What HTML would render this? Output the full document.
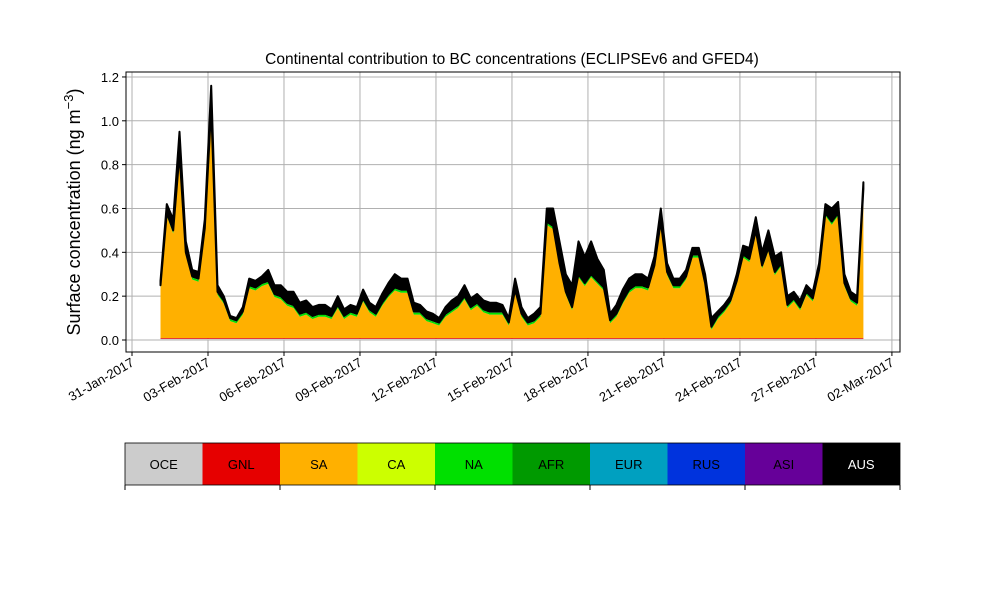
<!DOCTYPE html>
<html><head><meta charset="utf-8"><style>
body{margin:0;background:#fff;font-family:"Liberation Sans",sans-serif}
svg text{font-family:"Liberation Sans","DejaVu Sans",sans-serif}
</style></head><body>
<svg id="chart" width="1000" height="600" xmlns="http://www.w3.org/2000/svg">
<rect width="1000" height="600" fill="#fff"/>
<text x="512" y="64" font-size="15.5" text-anchor="middle">Continental contribution to BC concentrations (ECLIPSEv6 and GFED4)</text>
<text transform="translate(80,212) rotate(-90)" font-size="18" text-anchor="middle">Surface concentration (ng m<tspan dy="-7" font-size="13">−3</tspan><tspan dy="7">)</tspan></text>
<g id="grid"></g><g id="areas"></g><g id="axes"></g><g id="legend"></g>
</svg>
<script>
const totalValues=[0.27,0.62,0.55,0.95,0.45,0.32,0.31,0.55,1.16,
0.25,0.2,0.11,0.1,0.15,0.28,0.27,0.29,0.32,0.25,
0.25,0.22,0.22,0.17,0.18,0.15,0.16,0.16,0.14,0.2,
0.14,0.16,0.15,0.23,0.17,0.15,0.21,0.26,0.3,0.28,
0.28,0.17,0.16,0.13,0.12,0.1,0.15,0.18,0.2,0.25,
0.19,0.21,0.18,0.17,0.17,0.16,0.1,0.28,0.15,0.1,
0.12,0.15,0.6,0.6,0.45,0.3,0.25,0.45,0.38,0.45,
0.37,0.32,0.12,0.16,0.23,0.28,0.3,0.3,0.28,0.38,
0.6,0.35,0.28,0.28,0.32,0.42,0.42,0.3,0.1,0.13,
0.16,0.2,0.3,0.43,0.42,0.56,0.4,0.5,0.38,0.4,
0.2,0.22,0.18,0.25,0.22,0.35,0.62,0.6,0.63,0.3,
0.22,0.2,0.72];
const ausValues=[0.02,0.04,0.05,0.1,0.05,0.03,0.03,0.04,0.1,
0.03,0.02,0.01,0.01,0.02,0.03,0.03,0.03,0.05,0.04,
0.05,0.05,0.06,0.05,0.05,0.04,0.04,0.04,0.03,0.04,
0.03,0.03,0.03,0.04,0.03,0.03,0.04,0.05,0.06,0.05,
0.05,0.04,0.03,0.03,0.03,0.02,0.03,0.04,0.04,0.05,
0.04,0.04,0.04,0.04,0.04,0.03,0.02,0.05,0.03,0.02,
0.03,0.03,0.06,0.08,0.1,0.08,0.1,0.15,0.12,0.15,
0.1,0.08,0.03,0.04,0.05,0.05,0.05,0.05,0.04,0.04,
0.06,0.04,0.03,0.03,0.03,0.03,0.03,0.04,0.04,0.02,
0.02,0.02,0.03,0.04,0.05,0.06,0.06,0.08,0.07,0.05,
0.04,0.03,0.03,0.03,0.03,0.03,0.04,0.06,0.05,0.04,
0.03,0.03,0.03];
const oceValue=0.006, gnlValue=0.003, naValue=0.008, afrValue=0.006;
const startDay=1.125, stepDay=0.25;
const yTicks=[0.0,0.2,0.4,0.6,0.8,1.0,1.2];
const xTickDays=[0,3,6,9,12,15,18,21,24,27,30];
const xTickLabels=["31-Jan-2017","03-Feb-2017","06-Feb-2017","09-Feb-2017","12-Feb-2017","15-Feb-2017","18-Feb-2017","21-Feb-2017","24-Feb-2017","27-Feb-2017","02-Mar-2017"];
const legendNames=["OCE","GNL","SA","CA","NA","AFR","EUR","RUS","ASI","AUS"];
const legendColors=["#cccccc","#e60000","#ffb000","#ccff00","#00e000","#009a00","#00a0c0","#0033dd","#660099","#000000"];

const NS="http://www.w3.org/2000/svg";
const L=126,R=900,T=72,B=352;
function X(day){return 208+(day-3)*25.33;}
function Y(v){return 340-v*219.2;}
function mk(tag,attrs,parent){const e=document.createElementNS(NS,tag);for(const k in attrs)e.setAttribute(k,attrs[k]);parent.appendChild(e);return e;}
const grid=document.getElementById('grid'),areas=document.getElementById('areas'),axes=document.getElementById('axes'),leg=document.getElementById('legend');

yTicks.forEach(v=>{const g=mk('line',{x1:L,x2:R,y1:Y(v),y2:Y(v),stroke:'#b0b0b0','stroke-width':1},grid);


mk('line',{x1:L-4,x2:L,y1:Y(v),y2:Y(v),stroke:'#000'},axes);
const lb=mk('text',{x:L-7,y:Y(v)+5,'font-size':13,'text-anchor':'end'},axes);lb.textContent=v.toFixed(1);

});
xTickDays.forEach((d,i)=>{const x=X(d);const g=mk('line',{x1:x,x2:x,y1:T,y2:B,stroke:'#b0b0b0'},grid);


mk('line',{x1:x,x2:x,y1:B,y2:B+4,stroke:'#000'},axes);
const lb=mk('text',{x:x+3,y:B+13,'font-size':13,'text-anchor':'end',transform:`rotate(-30 ${x+3} ${B+13})`},axes);lb.textContent=xTickLabels[i];

});

const n=totalValues.length;
const saValues=totalValues.map((t,i)=>Math.max(0,t-(ausValues[i]??0.03)-oceValue-gnlValue-naValue-afrValue));
const layers=[["OCE",totalValues.map(()=>oceValue),"#cccccc"],["GNL",totalValues.map(()=>gnlValue),"#e60000"],["SA",saValues,"#ffb000"],["NA",totalValues.map(()=>naValue),"#00e000"],["AFR",totalValues.map(()=>afrValue),"#009a00"],["AUS",totalValues.map((t,i)=>ausValues[i]??0.03),"#000000"]];
let base=new Array(n).fill(0);
layers.forEach(([name,vals,col])=>{const top=base.map((b,i)=>b+vals[i]);
let d='';for(let i=0;i<n;i++)d+=(i?'L':'M')+X(startDay+i*stepDay).toFixed(1)+','+Y(top[i]).toFixed(1);
for(let i=n-1;i>=0;i--)d+='L'+X(startDay+i*stepDay).toFixed(1)+','+Y(base[i]).toFixed(1);
const p=mk('path',{d:d+'Z',fill:col,stroke:name==='AUS'?'#000':'none','stroke-width':name==='AUS'?2:0,'stroke-linejoin':'round'},areas);


base=top;});

const fr=mk('rect',{x:L,y:T,width:R-L,height:B-T,fill:'none',stroke:'#000','stroke-width':1},axes);



const lx=125,lw=77.5,ly=443,lh=42;
legendNames.forEach((nm,i)=>{const g=mk('g',{},leg);


mk('rect',{x:lx+i*lw,y:ly,width:lw,height:lh,fill:legendColors[i]},g);
const t=mk('text',{x:lx+i*lw+lw/2,y:ly+26,'font-size':13,'text-anchor':'middle',fill:nm==='AUS'?'#fff':'#000'},g);t.textContent=nm;});
mk('rect',{x:lx,y:ly,width:lw*10,height:lh,fill:'none',stroke:'#000','stroke-width':0.8},leg);
[0,2,4,6,8,10].forEach(k=>mk('line',{x1:lx+k*lw,x2:lx+k*lw,y1:ly+lh,y2:ly+lh+5,stroke:'#000'},leg));
</script>
</body></html>
